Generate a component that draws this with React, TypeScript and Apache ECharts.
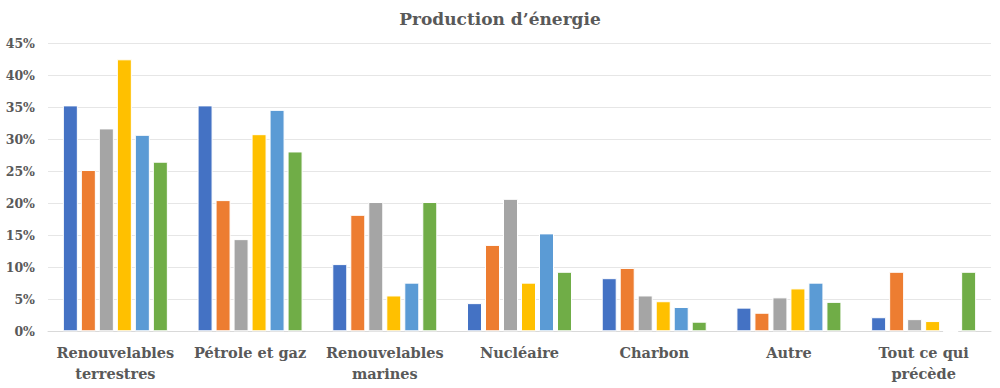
import React, { useEffect, useRef } from "react";
import * as echarts from "echarts";

const categories = [
  "Renouvelables terrestres",
  "Pétrole et gaz",
  "Renouvelables marines",
  "Nucléaire",
  "Charbon",
  "Autre",
  "Tout ce qui précède",
];

const yTicks = [0, 5, 10, 15, 20, 25, 30, 35, 40, 45];

const series1 = [35.3, 35.3, 10.5, 4.4, 8.3, 3.7, 2.2];
const series2 = [25.2, 20.5, 18.2, 13.5, 9.9, 2.9, 9.3];
const series3 = [31.7, 14.4, 20.2, 20.7, 5.6, 5.3, 1.9];
const series4 = [42.5, 30.8, 5.6, 7.6, 4.7, 6.7, 1.6];
const series5 = [30.7, 34.6, 7.6, 15.3, 3.8, 7.6, 0];
const series6 = [26.5, 28.1, 20.2, 9.3, 1.5, 4.6, 9.3];

const seriesNames = ["Série 1", "Série 2", "Série 3", "Série 4", "Série 5", "Série 6"];
const seriesData = [series1, series2, series3, series4, series5, series6];
const colors = ["#4472C4", "#ED7D31", "#A5A5A5", "#FFC000", "#5B9BD5", "#70AD47"];

const FONT = "DejaVu Serif";

export default function App() {
  const ref = useRef<HTMLDivElement>(null);
  useEffect(() => {
    document.body.style.margin = "0";
    if (!ref.current) return;
    const chart = echarts.init(ref.current, null, { renderer: "svg" });
    chart.setOption({
      animation: false,
      backgroundColor: "#ffffff",
      color: colors,
      title: {
        text: "Production d’énergie",
        left: "center",
        top: 5,
        textStyle: { fontFamily: FONT, fontWeight: "bold", fontSize: 17, color: "#595959" },
      },
      grid: { left: 48, right: 9, top: 43.3, bottom: 56.7, containLabel: false },
      xAxis: {
        type: "category",
        data: categories,
        axisLine: { show: true, lineStyle: { color: "#d9d9d9", width: 1 } },
        axisTick: { show: false },
        axisLabel: {
          interval: 0,
          margin: 11,
          fontFamily: FONT,
          fontWeight: "bold",
          fontSize: 14.5,
          lineHeight: 21,
          color: "#595959",
          formatter: (v: string) => {
            if (v.length > 15) {
              const i = v.lastIndexOf(" ");
              return v.slice(0, i) + "\n" + v.slice(i + 1);
            }
            return v;
          },
        },
      },
      yAxis: {
        type: "value",
        min: yTicks[0],
        max: yTicks[yTicks.length - 1],
        interval: 5,
        axisLine: { show: false },
        axisTick: { show: false },
        splitLine: { lineStyle: { color: "#e6e6e6", width: 1 } },
        axisLabel: {
          margin: 13,
          fontFamily: FONT,
          fontWeight: "bold",
          fontSize: 12.5,
          color: "#595959",
          formatter: (v: number) => `${v}%`,
        },
      },
      series: seriesData.map((d, i) => ({
        name: seriesNames[i],
        type: "bar",
        data: d,
        barWidth: 15,
        barGap: "20%",
        itemStyle: { color: colors[i], borderColor: "#ffffff", borderWidth: 1 },
      })),
    });
    return () => chart.dispose();
  }, []);
  return <div ref={ref} style={{ width: 1000, height: 388 }} />;
}
